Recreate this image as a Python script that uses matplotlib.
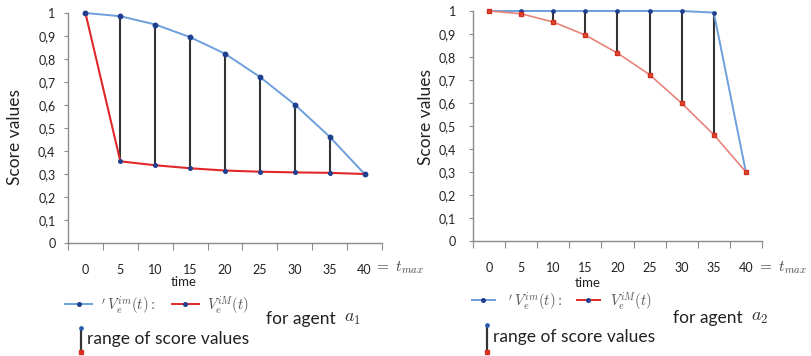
import matplotlib
matplotlib.use("Agg")
import matplotlib.pyplot as plt
from matplotlib.lines import Line2D

plt.rcParams['font.family'] = ['Lato', 'DejaVu Sans']
plt.rcParams['mathtext.fontset'] = 'cm'

times = ["0", "5", "10", "15", "20", "25", "30", "35", "40"]
ytick_vals = [0, 0.1, 0.2, 0.3, 0.4, 0.5, 0.6, 0.7, 0.8, 0.9, 1.0]
ytick_labels = ["0", "0,1", "0,2", "0,3", "0,4", "0,5", "0,6", "0,7", "0,8", "0,9", "1"]

a1_upper = [1.0, 0.986, 0.950, 0.895, 0.823, 0.722, 0.602, 0.462, 0.300]
a1_lower = [1.0, 0.355, 0.338, 0.325, 0.315, 0.310, 0.307, 0.305, 0.300]
a2_upper = [1.0, 1.0, 1.0, 1.0, 1.0, 1.0, 1.0, 0.993, 0.298]
a2_lower = [1.0, 0.988, 0.952, 0.895, 0.817, 0.723, 0.599, 0.462, 0.300]
range_idx = [1, 2, 3, 4, 5, 6, 7]

W, H = 812, 356
fig = plt.figure(figsize=(W / 100, H / 100), dpi=100)


def fx(x):
    return x / W


def fy(y):
    return 1 - y / H


BLUE = '#6c9fdc'
RED1 = '#e02828'
RED2 = '#e8837a'
NAVY = '#1f3f8f'
SPINE = '#8c8c8c'
TXT = '#222222'


def make_ax(left, right, top, bottom):
    ax = fig.add_axes([fx(left), fy(bottom), fx(right) - fx(left), fy(top) - fy(bottom)])
    ax.set_xlim(-0.5, len(times) - 0.5)
    ax.set_ylim(0, 1)
    for s in ['top', 'right']:
        ax.spines[s].set_visible(False)
    for s in ['left', 'bottom']:
        ax.spines[s].set_color(SPINE)
        ax.spines[s].set_linewidth(1.0)
    ax.set_yticks(ytick_vals)
    ax.set_yticklabels(ytick_labels, fontsize=9, color=TXT)
    ax.tick_params(axis='y', length=3, color=SPINE)
    ax.set_xticks([i - 0.5 for i in range(len(times) + 1)])
    ax.set_xticklabels([])
    ax.tick_params(axis='x', which='major', length=5, color=SPINE, direction='out')
    ax.set_xticks(range(len(times)), minor=True)
    ax.set_xticklabels(times, minor=True, fontsize=9, color=TXT)
    ax.tick_params(axis='x', which='minor', length=0, pad=15)
    return ax


x = list(range(len(times)))

# left panel
ax1 = make_ax(68, 382, 13, 243)
ax1.tick_params(axis='y', pad=6)
for i in range_idx:
    ax1.plot([x[i], x[i]], [a1_lower[i], a1_upper[i]], color='#333333', lw=1.5, zorder=2)
ax1.plot(x, a1_upper, color=BLUE, lw=1.4, marker='o', ms=3.2, mfc=NAVY, mec=NAVY, zorder=3, clip_on=False)
ax1.plot(x, a1_lower, color=RED1, lw=1.5, marker='o', ms=2.6, mfc=NAVY, mec=NAVY, zorder=3, clip_on=False)

# right panel
ax2 = make_ax(473, 762, 11, 241)
ax2.tick_params(axis='y', pad=9)
for i in range_idx:
    ax2.plot([x[i], x[i]], [a2_lower[i], a2_upper[i]], color='#333333', lw=1.5, zorder=2)
ax2.plot(x, a2_upper, color=BLUE, lw=1.4, marker='o', ms=2.4, mfc=NAVY, mec=NAVY, zorder=3, clip_on=False)
ax2.plot(x, a2_lower, color=RED2, lw=1.2, marker='s', ms=3.2, mfc='#e0482c', mec='#d03020', zorder=4, clip_on=False)

# y labels
fig.text(fx(15), fy(137), "Score values", rotation=90, ha='center', va='center', fontsize=12.5, color=TXT)
fig.text(fx(426), fy(117), "Score values", rotation=90, ha='center', va='center', fontsize=12.5, color=TXT)

# time labels and t_max
fig.text(fx(184), fy(282), "time", ha='center', va='center', fontsize=9.5, color=TXT)
fig.text(fx(588), fy(283), "time", ha='center', va='center', fontsize=9.5, color=TXT)
fig.text(fx(374), fy(268), r"$=\ t_{max}$", ha='left', va='center', fontsize=11, color='#444444')
fig.text(fx(757), fy(268), r"$=\ t_{max}$", ha='left', va='center', fontsize=11, color='#444444')


def legend_block(bx0, bx1, by, v1x, rx0, rx1, v2x, rangex, ry0, ry1, rtx, rty, agx, agy, sub):
    fig.add_artist(Line2D([fx(bx0), fx(bx1)], [fy(by), fy(by)], color=BLUE, lw=1.4,
                          transform=fig.transFigure))
    fig.add_artist(Line2D([fx((bx0 + bx1) / 2)], [fy(by)], marker='o', ms=2.6, color=NAVY,
                          transform=fig.transFigure))
    fig.text(fx(v1x), fy(by + 1), r"$'\,V_e^{im}(t):$", ha='left', va='center', fontsize=10.5, color='#555555')
    fig.add_artist(Line2D([fx(rx0), fx(rx1)], [fy(by), fy(by)], color=RED1, lw=1.4,
                          transform=fig.transFigure))
    fig.add_artist(Line2D([fx((rx0 + rx1) / 2)], [fy(by)], marker='o', ms=2.6, color=NAVY,
                          transform=fig.transFigure))
    fig.text(fx(v2x), fy(by + 1), r"$V_e^{iM}(t)$", ha='left', va='center', fontsize=10.5, color='#555555')
    fig.add_artist(Line2D([fx(rangex), fx(rangex)], [fy(ry0), fy(ry1)], color='#333333', lw=1.6,
                          transform=fig.transFigure))
    fig.add_artist(Line2D([fx(rangex)], [fy(ry0)], marker='o', ms=2.4, color='#2a5fb0',
                          transform=fig.transFigure))
    fig.add_artist(Line2D([fx(rangex)], [fy(ry1)], marker='s', ms=3.0, color='#d83020',
                          transform=fig.transFigure))
    fig.text(fx(rtx), fy(rty), "range of score values", ha='left', va='center', fontsize=12.5, color=TXT)
    fig.text(fx(agx), fy(agy), "for agent", ha='left', va='center', fontsize=12.5, color=TXT)
    fig.text(fx(agx + 78), fy(agy), r"$a_%d$" % sub, ha='left', va='center', fontsize=13, color='#333333')


legend_block(65, 92, 304, 101, 172, 199, 207, 81, 328, 352, 87, 339, 266, 319, 1)
legend_block(472, 495, 300, 508, 577, 600, 610, 487, 325, 352, 493, 337, 673, 318, 2)

fig.savefig("out.png", dpi=100)
